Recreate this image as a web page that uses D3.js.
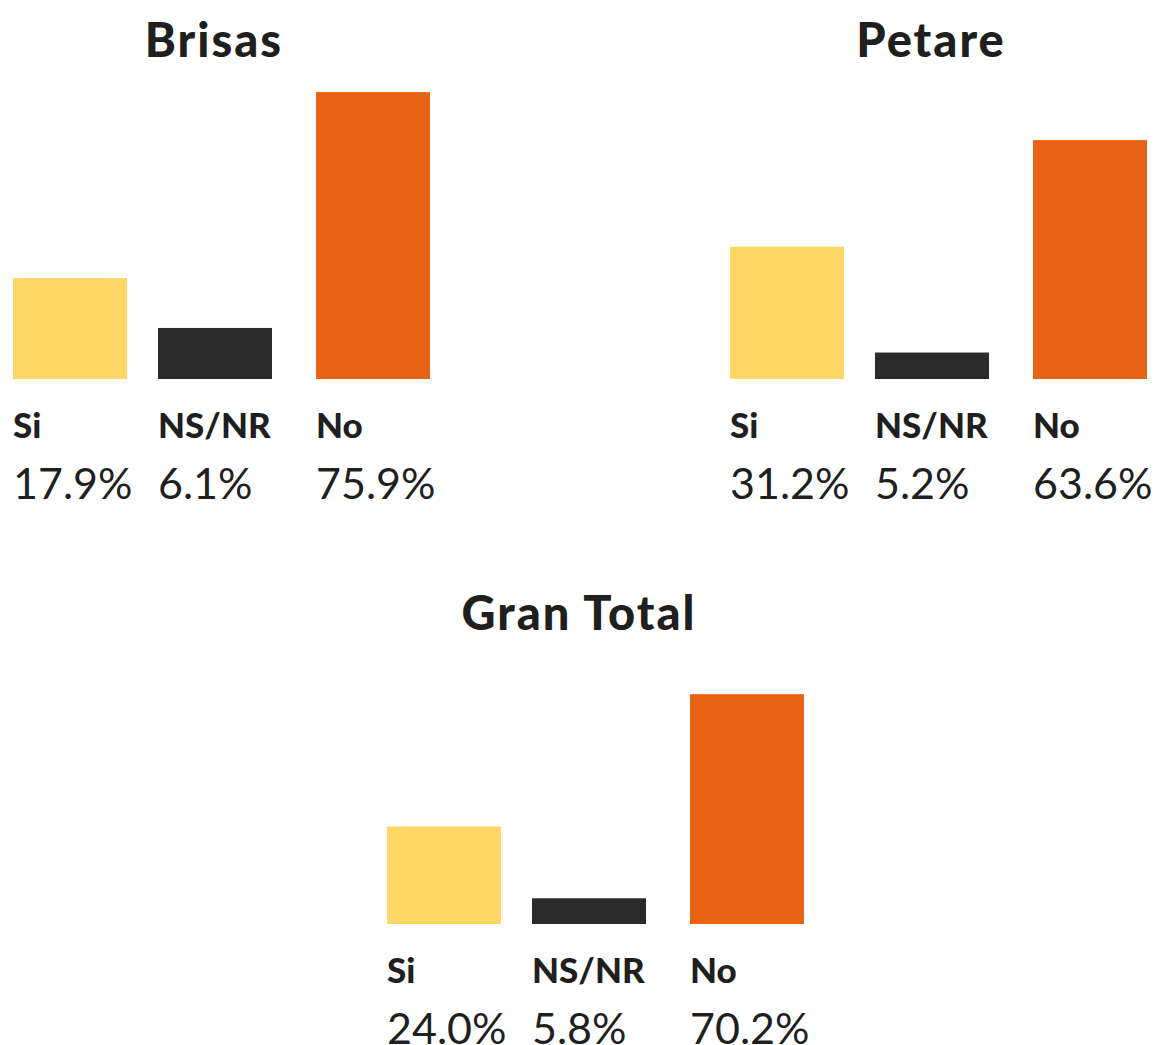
<!DOCTYPE html>
<html>
<head>
<meta charset="utf-8">
<script src="https://cdn.jsdelivr.net/npm/d3@7"></script>
<style>
  html, body { margin: 0; padding: 0; background: #fff; }
  svg { display: block; }
  text { font-family: Lato, "Open Sans", sans-serif; fill: #1f1f1f; }
</style>
</head>
<body>
<svg id="chart" width="1155" height="1045"></svg>
<script>
// ---- data ----
const panels = ["Brisas", "Petare", "Gran Total"];
const categories = ["Si", "NS/NR", "No"];
// printed percentages
const brisasPct = [17.9, 6.1, 75.9];
const petarePct = [31.2, 5.2, 63.6];
const granTotalPct = [24.0, 5.8, 70.2];
// bar lengths as drawn in the reference (0–100 scale)
const brisasBars = [26.7, 13.5, 75.9];
const petareBars = [35.0, 7.0, 63.2];
const granTotalBars = [25.8, 6.8, 60.8];
const colors = ["#FED766", "#2A2A2A", "#E86414"];

const pctByPanel = [brisasPct, petarePct, granTotalPct];
const barsByPanel = [brisasBars, petareBars, granTotalBars];

// ---- layout ----
const layout = [
  { x0: 13,  base: 379, titleY: 57,  titleCx: 201 },
  { x0: 730, base: 379, titleY: 57,  titleCx: 201 },
  { x0: 387, base: 924, titleY: 630, titleCx: 192 }
];
const barW = 114;
const x = d3.scaleOrdinal().domain(categories).range([0, 145, 303]);
const h = d3.scaleLinear().domain([0, 100]).range([0, 378]);
const color = d3.scaleOrdinal().domain(categories).range(colors);
const fmt = d3.format(".1f");

const svg = d3.select("#chart");

panels.forEach((name, i) => {
  const L = layout[i];
  const g = svg.append("g").attr("transform", `translate(${L.x0},0)`);
  const rows = categories.map((c, j) => ({ cat: c, pct: pctByPanel[i][j], bar: barsByPanel[i][j] }));

  g.append("text")
    .attr("x", L.titleCx)
    .attr("y", L.titleY)
    .attr("text-anchor", "middle")
    .style("font-weight", 900)
    .style("font-size", "47px")
    .style("letter-spacing", "2px")
    .text(name);

  g.selectAll("rect.bar").data(rows).join("rect")
    .attr("class", "bar")
    .attr("x", d => x(d.cat))
    .attr("width", barW)
    .attr("y", d => L.base - h(d.bar))
    .attr("height", d => h(d.bar))
    .attr("fill", d => color(d.cat));

  g.selectAll("text.cat").data(rows).join("text")
    .attr("class", "cat")
    .attr("x", d => x(d.cat))
    .attr("y", L.base + 59)
    .style("font-weight", 900)
    .style("font-size", "35px")
    .text(d => d.cat);

  g.selectAll("text.val").data(rows).join("text")
    .attr("class", "val")
    .attr("x", d => x(d.cat))
    .attr("y", L.base + 120)
    .style("font-weight", 400)
    .style("font-size", "43px")
    .text(d => fmt(d.pct) + "%");
});
</script>
</body>
</html>
